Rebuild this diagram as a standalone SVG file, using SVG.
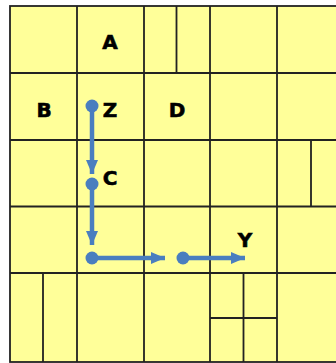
<svg xmlns="http://www.w3.org/2000/svg" width="336" height="363" viewBox="0 0 336 363">
<style>
.bg{fill:#ffff99;stroke:#222;stroke-width:1.8}
.g{stroke:#222;stroke-width:1.8;fill:none}
.lbl{font-family:"DejaVu Sans",Verdana,sans-serif;font-weight:bold;font-size:20px;fill:#000;stroke:#000;stroke-width:0.6;text-anchor:middle}
.c{stroke:#4a7ebf;stroke-width:4.5;fill:none}
.dot{fill:#4a7ebf}
</style>
<defs>
<marker id="ah" markerUnits="userSpaceOnUse" markerWidth="14" markerHeight="12" refX="14" refY="6" orient="auto">
<path d="M0,0 L14,6 L0,12 Z" fill="#4a7ebf"/>
</marker>
</defs>
<rect class="bg" x="10" y="6" width="330" height="356"/>
<g id="grid" class="g">
<path d="M10,73H336M10,140H336M10,206.5H336M10,273H336"/>
<path d="M77,6V362M144,6V362M210,6V362M277,6V362"/>
<path d="M176.5,6V73M311,140V206.5M43,273V362M243.5,273V362M210,318H277"/>
</g>
<g id="A"><text class="lbl" x="110" y="49">A</text></g>
<g id="B"><text class="lbl" x="44" y="117">B</text></g>
<g id="Z"><text class="lbl" x="110" y="117">Z</text></g>
<g id="D"><text class="lbl" x="177" y="117">D</text></g>
<g id="C"><text class="lbl" x="110" y="185">C</text></g>
<g id="Y"><text class="lbl" x="245" y="247">Y</text></g>
<g id="connectors">
<circle class="dot" cx="92" cy="106" r="6.5"/>
<circle class="dot" cx="92" cy="184" r="6.5"/>
<circle class="dot" cx="92" cy="258" r="6.5"/>
<circle class="dot" cx="183" cy="258" r="6.5"/>
<line class="c" x1="92" y1="106" x2="92" y2="174" marker-end="url(#ah)"/>
<line class="c" x1="92" y1="184" x2="92" y2="245" marker-end="url(#ah)"/>
<line class="c" x1="92" y1="258" x2="165" y2="258" marker-end="url(#ah)"/>
<line class="c" x1="183" y1="258" x2="245" y2="258" marker-end="url(#ah)"/>
</g>
</svg>
